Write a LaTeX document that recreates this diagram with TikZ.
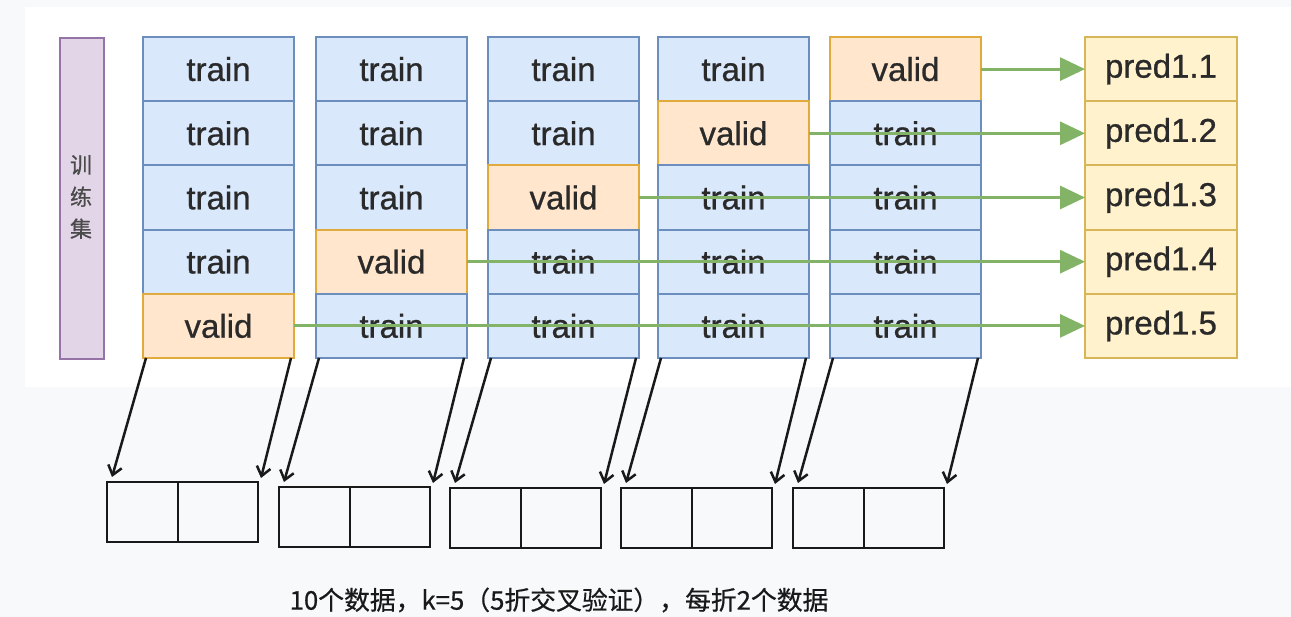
\documentclass[tikz,border=0pt]{standalone}
\usepackage{fontspec}
\setmainfont{Liberation Sans}
\newfontfamily\cellfont{Liberation Sans}[FakeBold=0.8]
\newfontfamily\cjkfont{Noto Sans CJK SC}[FakeBold=0.6]
\usetikzlibrary{arrows.meta}
\definecolor{pagegray}{RGB}{248,249,251}
\definecolor{trainfill}{RGB}{218,232,252}
\definecolor{trainline}{RGB}{108,142,191}
\definecolor{validfill}{RGB}{255,230,204}
\definecolor{validline}{RGB}{225,170,60}
\definecolor{predfill}{RGB}{255,242,204}
\definecolor{predline}{RGB}{214,182,86}
\definecolor{setfill}{RGB}{225,213,231}
\definecolor{setline}{RGB}{150,115,166}
\definecolor{predgreen}{RGB}{130,179,102}
\definecolor{celltext}{RGB}{42,42,42}

\tikzset{
    cell/.style={anchor=north west, inner sep=0pt, outer sep=0pt, line width=2pt,
        minimum height=64.2pt, text=celltext, font=\cellfont\fontsize{33}{33}\selectfont},
    traincell/.style={cell, fill=trainfill, draw=trainline, minimum width=151pt},
    validcell/.style={cell, fill=validfill, draw=validline, minimum width=151pt},
    predcell/.style={cell, fill=predfill, draw=predline, minimum width=152pt},
    predarrow/.style={predgreen, line width=3pt, -{Triangle[length=25pt,width=23pt]}},
    foldbox/.style={draw=black!90, line width=2.5pt, anchor=north west, inner sep=0pt,
        outer sep=0pt, minimum width=151pt, minimum height=60pt},
    foldarrow/.style={black!90, line width=2.5pt, -{Straight Barb[length=9pt,width=14pt]}}
}

\begin{document}
\begin{tikzpicture}[x=1pt, y=-1pt]
    % Page and panel
    \useasboundingbox (0,0) rectangle (1291,617);
    \fill[pagegray] (0,0) rectangle (1291,617);
    \fill[white] (25,7) rectangle (1291,387);

    % Training set label
    \node[fill=setfill, draw=setline, line width=2pt, anchor=north west, inner sep=0pt,
        minimum width=44pt, minimum height=321pt] (set) at (59,37) {};
    \node[text=celltext!85, align=center, font=\cjkfont\fontsize{22}{32}\selectfont]
        (setlabel) at (81,197) {训\\练\\集};

    % Five folds, one valid cell each
    \foreach \c/\x/\v in {1/143/5, 2/316/4, 3/488/3, 4/658/2, 5/830/1} {
        \foreach \r in {1,...,5} {
            \ifnum\r=\v
                \node[validcell] (f\c r\r) at (\x,{37+64.2*(\r-1)}) {valid};
            \else
                \node[traincell] (f\c r\r) at (\x,{37+64.2*(\r-1)}) {train};
            \fi
        }
    }

    % Predictions
    \foreach \r in {1,...,5}
        \node[predcell] (p\r) at (1085,{37+64.2*(\r-1)}) {pred1.\r};

    % Valid cells to predictions
    \foreach \c/\r in {1/5, 2/4, 3/3, 4/2, 5/1}
        \draw[predarrow] (f\c r\r.east) -- (p\r.west);

    % Two data points per fold
    \foreach \c/\x/\y in {1/107/482, 2/279/487, 3/450/488, 4/621/488, 5/793/488} {
        \node[foldbox] (b\c) at (\x,\y) {};
        \draw[black!90, line width=2.5pt] ([xshift=71pt]b\c.north west) -- ([xshift=71pt]b\c.south west);
        \draw[foldarrow] ([xshift=3pt]f\c r5.south west) -- ([xshift=5pt,yshift=5pt]b\c.north west);
        \draw[foldarrow] ([xshift=-3pt]f\c r5.south east) -- ([xshift=3pt,yshift=4pt]b\c.north east);
    }

    % Caption
    \node[text=black!90, font=\cjkfont\fontsize{25.8}{26}\selectfont] (caption) at (559,600)
        {10个数据，k=5（5折交叉验证），每折2个数据};
\end{tikzpicture}
\end{document}
